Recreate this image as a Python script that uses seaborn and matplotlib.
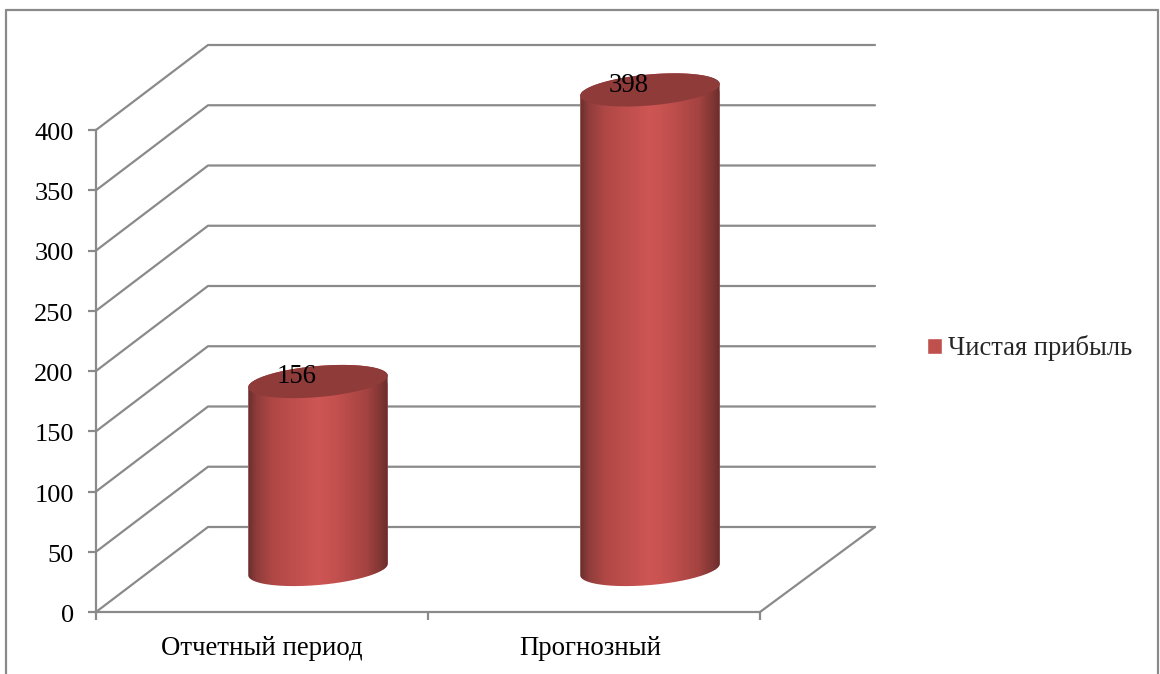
import numpy as np
import matplotlib
matplotlib.use("Agg")
import matplotlib.pyplot as plt
from matplotlib.colors import LinearSegmentedColormap
from matplotlib.lines import Line2D
from matplotlib.path import Path
from matplotlib.transforms import ScaledTranslation
import seaborn as sns

categories = ["Отчетный период", "Прогнозный"]
values = [156, 398]
series_name = "Чистая прибыль"
y_ticks = [0, 50, 100, 150, 200, 250, 300, 350, 400]

sns.set_theme(style="white")
plt.rcParams["font.family"] = ["Liberation Serif", "DejaVu Serif"]

grey = "#8a8a8a"
fig = plt.figure(figsize=(11.6, 6.74), dpi=100)
ax = fig.add_axes([96 / 1160, 62 / 674, 664 / 1160, 482 / 674])

sns.barplot(x=categories, y=values, color="#c0504d", saturation=1, width=0.42, label=series_name, ax=ax)
ax.set_xlim(-0.5, 1.5)
ax.set_ylim(0, 400)

# px -> data units
sx = 332.0
sy = 482 / 400
depth_l = 112 / sx
depth_r = 115 / sx
depth_y = 85 / sy

# walls
for v in y_ticks:
    ax.plot([-0.5, -0.5 + depth_l, 1.5 + depth_r], [v, v + depth_y, v + depth_y],
            color=grey, lw=1.6, clip_on=False, zorder=1)
ax.plot([1.5, 1.5 + depth_r], [0, depth_y], color=grey, lw=1.6, clip_on=False, zorder=1)

# cylinders
shade = LinearSegmentedColormap.from_list("cyl", [
    (0.0, "#6a2d2c"), (0.06, "#8f3d3b"), (0.18, "#b04846"), (0.5, "#ce5654"),
    (0.62, "#c4514f"), (0.85, "#a44341"), (0.95, "#7f3634"), (1.0, "#6a2d2c")])
a, b, tilt = 70.0, 15.5, np.radians(5)


def ellipse_pts(cx, cy, t):
    px = a * np.cos(t) * np.cos(tilt) - b * np.sin(t) * np.sin(tilt)
    py = a * np.cos(t) * np.sin(tilt) + b * np.sin(t) * np.cos(tilt)
    return cx + px / sx, cy + py / sy


for patch, val in zip(ax.patches, values):
    cx = patch.get_x() + patch.get_width() / 2 + 0.5 * depth_l
    cy = depth_y / 2
    patch.set_x(cx - patch.get_width() / 2)
    patch.set_y(cy)
    patch.set_zorder(2)

    bx, by = ellipse_pts(cx, cy, np.linspace(np.pi, 2 * np.pi, 80))
    tx, ty = ellipse_pts(cx, cy + val, np.linspace(0, np.pi, 80))
    outline = Path(np.column_stack([np.r_[bx, tx], np.r_[by, ty]]))
    patch.set_clip_path(outline, ax.transData)
    patch.set_clip_box(fig.bbox)

    im = ax.imshow(np.linspace(0, 1, 256).reshape(1, -1), cmap=shade, aspect="auto",
                   extent=(cx - a / sx, cx + a / sx, cy - 20 / sy, cy + val + 20 / sy),
                   interpolation="bilinear", zorder=3)
    im.set_clip_path(outline, ax.transData)
    im.set_clip_box(fig.bbox)

    ex, ey = ellipse_pts(cx, cy + val, np.linspace(0, 2 * np.pi, 160))
    ax.fill(ex, ey, color="#8e3b3a", lw=0, clip_on=False, zorder=4)
    ax.annotate(str(val), (cx, cy + val), xytext=(-15.5, 3.5), textcoords="offset points",
                ha="center", va="center", fontsize=19.3, color="black", zorder=5, annotation_clip=False)

ax.set_xlim(-0.5, 1.5)
ax.set_ylim(0, 400)

# axes
sns.despine(ax=ax, top=True, right=True)
for side in ["left", "bottom"]:
    ax.spines[side].set_color(grey)
    ax.spines[side].set_linewidth(1.6)
ax.set_yticks(y_ticks)
ax.set_xticks([0, 1], categories)
ax.set_xticks([-0.5, 0.5, 1.5], minor=True)
ax.tick_params(axis="y", length=6, width=1.6, color=grey, left=True, pad=10, labelsize=19, labelcolor="black")
ax.tick_params(axis="x", which="major", length=0, pad=17, labelsize=19.3, labelcolor="black")
ax.tick_params(axis="x", which="minor", length=6, width=1.6, color=grey, bottom=True)
for lab in ax.get_yticklabels():
    lab.set_va("center_baseline")
    lab.set_transform(lab.get_transform() + ScaledTranslation(0, -1.5 / 100, fig.dpi_scale_trans))
lab = ax.get_xticklabels()[1]
lab.set_transform(lab.get_transform() + ScaledTranslation(-3.5 / 100, 0, fig.dpi_scale_trans))

ax.legend(loc="center left", bbox_to_anchor=(927.5 / 1160, 326 / 674), bbox_transform=fig.transFigure,
          frameon=False, fontsize=19.1, handlelength=0.56, handleheight=0.56, handletextpad=0.2,
          borderpad=0, borderaxespad=0)

# chart frame
for xs, ys in [([6, 6], [0, 664.5]), ([6, 1158], [664.5, 664.5]), ([1158, 1158], [0, 664.5])]:
    fig.add_artist(Line2D(np.array(xs) / 1160, np.array(ys) / 674, color=grey, lw=1.6))

fig.savefig("out.png", dpi=100, facecolor="white")
